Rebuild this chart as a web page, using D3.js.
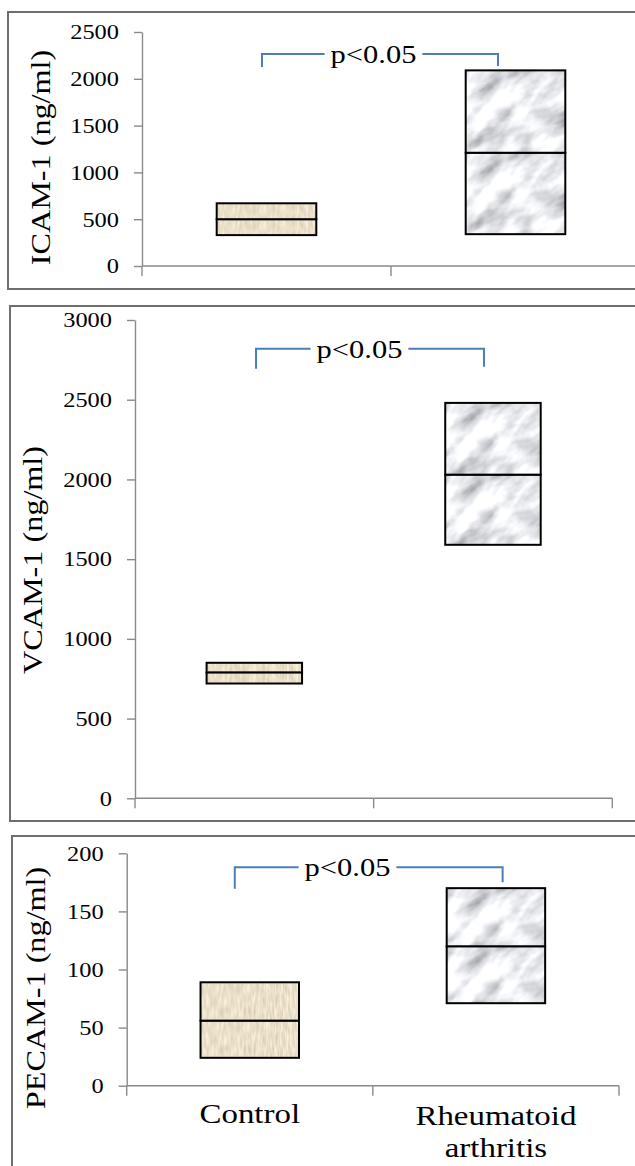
<!DOCTYPE html>
<html>
<head>
<meta charset="utf-8">
<script src="https://cdnjs.cloudflare.com/ajax/libs/d3/7.8.5/d3.min.js"></script>
<style>
  body { margin: 0; background: #fff; }
  svg { display: block; }
  svg text { font-family: "Times New Roman", "Liberation Serif", Tinos, serif; }
</style>
</head>
<body>
<div id="chart"></div>
<script>
// values: low / median / high of each box
const categories = ["Control", "Rheumatoid arthritis"];
const markerLabels = ["ICAM-1 (ng/ml)", "VCAM-1 (ng/ml)", "PECAM-1 (ng/ml)"];
const yTickValues = [
    [0, 500, 1000, 1500, 2000, 2500],
    [0, 500, 1000, 1500, 2000, 2500, 3000],
    [0, 50, 100, 150, 200]
];
const lowValues = [[330, 340], [720, 1590], [24, 71]];
const medianValues = [[500, 1210], [790, 2030], [56, 120]];
const highValues = [[670, 2090], [850, 2480], [89, 170]];
const bracketLevels = [2265, 2820, 188];
const pText = "p<0.05";

const width = 635, height = 1166;

// where each of the three stacked panels sits on the page
const layout = [
    { frame: [8, 12, 277], axisX: 142, yTop: 32, yBottom: 266, xEnd: 640, label: [50, 157.5],
      bracket: { left: -4.5, right: -17.5, dropL: 13, dropR: 12, textX: 373.5 } },
    { frame: [10, 306, 515], axisX: 135, yTop: 320, yBottom: 798.3, xEnd: 612.3, label: [41.7, 560],
      bracket: { left: 1.7, right: -9, dropL: 20, dropR: 18, textX: 359.5 } },
    { frame: [12, 836, 340], axisX: 126.7, yTop: 853.3, yBottom: 1085.7, xEnd: 619, label: [45, 988],
      bracket: { left: -15, right: 6.7, dropL: 21.6, dropR: 15, textX: 347.5 } }
];

const svg = d3.select("#chart").append("svg")
    .attr("width", width)
    .attr("height", height);

svg.append("rect").attr("width", width).attr("height", height).attr("fill", "#fff");

const defs = svg.append("defs");

//marble look for the RA boxes
const marble = defs.append("filter").attr("id", "marble")
    .attr("filterUnits", "objectBoundingBox")
    .attr("x", 0).attr("y", 0).attr("width", 1).attr("height", 1);
marble.append("feTurbulence")
    .attr("type", "fractalNoise")
    .attr("baseFrequency", "0.03 0.06")
    .attr("numOctaves", 4)
    .attr("seed", 11);
marble.append("feColorMatrix")
    .attr("type", "matrix")
    .attr("values", "1.3 0 0 0 0.17  1.3 0 0 0 0.18  1.3 0 0 0 0.21  0 0 0 0 1");

//woven beige look for the control boxes
const beige = defs.append("filter").attr("id", "beige")
    .attr("filterUnits", "objectBoundingBox")
    .attr("x", 0).attr("y", 0).attr("width", 1).attr("height", 1);
beige.append("feTurbulence")
    .attr("type", "fractalNoise")
    .attr("baseFrequency", "0.5 0.08")
    .attr("numOctaves", 2)
    .attr("seed", 3);
beige.append("feColorMatrix")
    .attr("type", "matrix")
    .attr("values", "0.5 0 0 0 0.58  0.5 0 0 0 0.5  0.5 0 0 0 0.34  0 0 0 0 1");

const makeTexture = (id, x, y, w, h, isRA) => {
    const pat = defs.append("pattern")
        .attr("id", id)
        .attr("patternUnits", "userSpaceOnUse")
        .attr("x", x).attr("y", y)
        .attr("width", w).attr("height", h);
    if (isRA) {
        pat.append("g")
            .attr("transform", `rotate(-35, ${w / 2}, ${h / 2})`)
            .append("rect")
            .attr("x", -w).attr("y", -h)
            .attr("width", w * 3).attr("height", h * 3)
            .attr("filter", "url(#marble)");
    } else {
        pat.append("rect")
            .attr("width", w).attr("height", h)
            .attr("filter", "url(#beige)");
    }
    return `url(#${id})`;
};

//stretch text sideways a bit, the source figure has wide glyphs
const stretch = (sel, f) => {
    sel.each(function () {
        const len = this.getComputedTextLength();
        d3.select(this).attr("textLength", len * f).attr("lengthAdjust", "spacingAndGlyphs");
    });
};

const axisColour = "#8a8a8a";

layout.forEach((L, p) => {
    const g = svg.append("g");

    g.append("rect")
        .attr("x", L.frame[0]).attr("y", L.frame[1])
        .attr("width", 700).attr("height", L.frame[2])
        .attr("fill", "none")
        .attr("stroke", "#6e6e6e")
        .attr("stroke-width", 2);

    const ticks = yTickValues[p];
    const y = d3.scaleLinear()
        .domain([0, ticks[ticks.length - 1]])
        .range([L.yBottom, L.yTop]);

    const x = d3.scaleBand()
        .domain(categories)
        .range([L.axisX, L.xEnd])
        .padding(0);

    const bw = x.bandwidth();
    const boxW = bw * 0.4;
    const y0 = y(0);

    //y axis
    const yAxis = g.append("g")
        .attr("transform", `translate(${L.axisX},0)`)
        .call(d3.axisLeft(y).tickValues(ticks).tickFormat(d3.format("d"))
            .tickSize(8).tickSizeOuter(0).tickPadding(15))
        .attr("font-family", null)
        .attr("font-size", null);
    yAxis.selectAll("path, line").attr("stroke", axisColour).attr("stroke-width", 1.4);
    yAxis.selectAll("text")
        .attr("font-size", 20)
        .attr("fill", "#000")
        .attr("dy", "0.34em")
        .call(stretch, 1.22);

    //x axis line, ticks between categories
    g.append("line")
        .attr("x1", L.axisX).attr("x2", L.xEnd)
        .attr("y1", y0).attr("y2", y0)
        .attr("stroke", axisColour).attr("stroke-width", 1.4);
    const bounds = [L.axisX].concat(categories.map((c) => x(c) + bw));
    g.selectAll(".xtick")
        .data(bounds).enter()
        .append("line")
        .attr("x1", (d) => d).attr("x2", (d) => d)
        .attr("y1", y0).attr("y2", y0 + 10)
        .attr("stroke", axisColour).attr("stroke-width", 1.4);

    //boxes: lower segment (low..median) and upper segment (median..high)
    categories.forEach((c, i) => {
        const left = x(c) + (bw - boxW) / 2;
        const segs = [
            [lowValues[p][i], medianValues[p][i]],
            [medianValues[p][i], highValues[p][i]]
        ];
        segs.forEach((s, k) => {
            const top = y(s[1]), h = y(s[0]) - y(s[1]);
            const fill = makeTexture(`tex-${p}-${i}-${k}`, left, top, boxW, h, i === 1);
            g.append("rect")
                .attr("x", left).attr("y", top)
                .attr("width", boxW).attr("height", h)
                .attr("fill", fill)
                .attr("stroke", "#000")
                .attr("stroke-width", 2);
        });
    });

    //significance bracket
    const B = L.bracket;
    const by = y(bracketLevels[p]);
    const bx1 = x(categories[0]) + bw / 2 + B.left;
    const bx2 = x(categories[1]) + bw / 2 + B.right;
    const pt = g.append("text")
        .attr("x", B.textX).attr("y", by)
        .attr("dy", "0.36em")
        .attr("text-anchor", "middle")
        .attr("font-size", 25)
        .text(pText)
        .call(stretch, 1.22);
    const half = pt.node().getComputedTextLength() / 2;
    const gap = 6;
    g.append("path")
        .attr("d", `M${bx1},${by + B.dropL}V${by}H${B.textX - half - gap}`)
        .attr("fill", "none").attr("stroke", "#4a7ebb").attr("stroke-width", 2);
    g.append("path")
        .attr("d", `M${B.textX + half + gap},${by}H${bx2}V${by + B.dropR}`)
        .attr("fill", "none").attr("stroke", "#4a7ebb").attr("stroke-width", 2);

    //y label
    g.append("text")
        .attr("transform", `translate(${L.label[0]},${L.label[1]}) rotate(-90)`)
        .attr("text-anchor", "middle")
        .attr("font-size", 28)
        .text(markerLabels[p])
        .call(stretch, 1.15);

    //category names under the last panel only
    if (p === layout.length - 1) {
        g.append("text")
            .attr("x", x(categories[0]) + bw / 2).attr("y", 1123.3)
            .attr("text-anchor", "middle")
            .attr("font-size", 27)
            .text(categories[0])
            .call(stretch, 1.22);
        const words = categories[1].split(" ");
        words.forEach((w, j) => {
            g.append("text")
                .attr("x", x(categories[1]) + bw / 2).attr("y", 1125 + j * 31.7)
                .attr("text-anchor", "middle")
                .attr("font-size", 27)
                .text(w)
                .call(stretch, 1.22);
        });
    }
});
</script>
</body>
</html>
